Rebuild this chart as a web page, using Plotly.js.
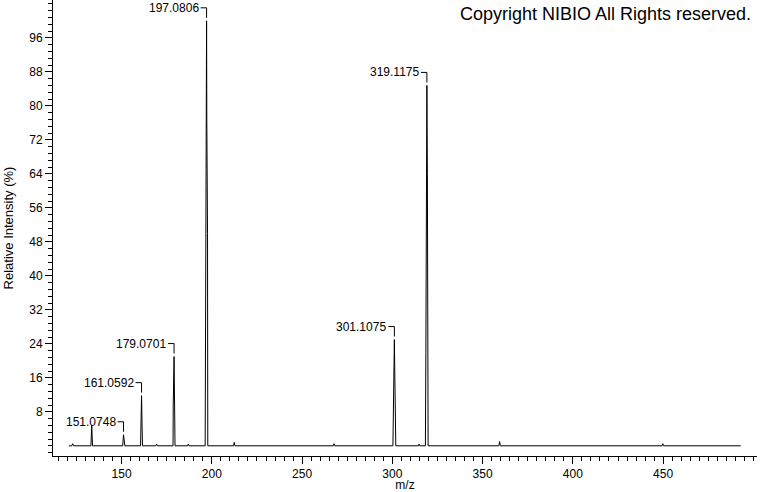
<!DOCTYPE html>
<html>
<head>
<meta charset="utf-8">
<script src="https://cdn.plot.ly/plotly-3.0.1.min.js"></script>
<style>html,body{margin:0;padding:0;background:#fff;}#chart{width:760px;height:492px;}</style>
</head>
<body>
<div id="chart"></div>
<script>
// Profile spectrum (m/z vs relative intensity %)
const mz = [120.8, 122.4, 122.9, 123.4,
  133.0, 133.45, 133.9,
  150.6, 151.07, 151.5, 151.8,
  160.5, 160.65, 161.06, 161.35, 161.6,
  169.0, 169.4, 169.8,
  178.5, 178.6, 179.07, 179.6,
  186.5, 186.9, 187.3,
  196.3, 196.5, 197.08, 197.2, 197.6, 197.75,
  212.0, 212.4, 212.8,
  267.3, 267.7, 268.1,
  300.3, 300.55, 301.11, 301.3, 301.65, 301.9,
  314.4, 314.8, 315.2,
  318.3, 318.56, 319.12, 319.4, 319.8,
  359.0, 359.4, 359.8,
  449.4, 449.8, 450.2,
  493.0];
const intensity = [0, 0, 0.5, 0,
  0, 4.8, 0,
  0, 2.6, 0.6, 0,
  0, 8.4, 11.8, 4.4, 0,
  0, 0.4, 0,
  0, 9.6, 21, 0,
  0, 0.4, 0,
  0, 24, 100, 77, 50, 0,
  0, 0.8, 0,
  0, 0.5, 0,
  0, 12.4, 25, 18.6, 6.5, 0,
  0, 0.4, 0,
  0, 22, 84.8, 64, 0,
  0, 1.0, 0,
  0, 0.5, 0,
  0];

// Labelled peaks
const peakMz = [151.0748, 161.0592, 179.0701, 197.0806, 301.1075, 319.1175];
const peakIntensity = [2.6, 11.8, 21, 100, 25, 84.8];

// Axis ticks
const xTickVals = [150, 200, 250, 300, 350, 400, 450];
const yTickVals = [8, 16, 24, 32, 40, 48, 56, 64, 72, 80, 88, 96];

const FONT = 'Liberation Sans, Arial, sans-serif';

const annotations = peakMz.map((m, i) => ({
  x: m, y: peakIntensity[i], xref: 'x', yref: 'y',
  text: m.toFixed(4), showarrow: false,
  xanchor: 'right', yanchor: 'middle',
  xshift: -6, yshift: 13,
  font: {family: FONT, size: 12, color: '#000'}
}));
annotations.push({
  xref: 'paper', yref: 'paper', x: 1, y: 1,
  xanchor: 'right', yanchor: 'top', xshift: -4, yshift: -2,
  text: 'Copyright NIBIO All Rights reserved.', showarrow: false,
  font: {family: FONT, size: 18, color: '#000'}
});

const shapes = peakMz.map((m, i) => ({
  type: 'path', xref: 'x', yref: 'y',
  xsizemode: 'pixel', ysizemode: 'pixel',
  xanchor: m, yanchor: peakIntensity[i],
  path: 'M -6,13 L 0,13 L 0,3',
  line: {color: '#000', width: 1}
}));

const trace = {
  x: mz, y: intensity, type: 'scatter', mode: 'lines',
  line: {color: '#000', width: 1},
  hoverinfo: 'x+y'
};

const layout = {
  width: 760, height: 492,
  margin: {l: 53, r: 3, t: 0, b: 36, pad: 0},
  paper_bgcolor: '#fff', plot_bgcolor: '#fff',
  showlegend: false,
  font: {family: FONT, size: 12, color: '#000'},
  xaxis: {
    range: [112, 502], autorange: false,
    showline: true, linecolor: '#000', linewidth: 1, mirror: false,
    showgrid: false, zeroline: false,
    tickmode: 'array', tickvals: xTickVals,
    ticks: 'outside', ticklen: 7, tickcolor: '#000', tickwidth: 1,
    tickfont: {family: FONT, size: 12, color: '#000'},
    minor: {tickmode: 'linear', tick0: 0, dtick: 5, ticks: 'outside', ticklen: 4, tickcolor: '#000', tickwidth: 1, showgrid: false},
    title: {text: 'm/z', font: {family: FONT, size: 12, color: '#000'}, standoff: 2}
  },
  yaxis: {
    range: [-2.4, 104.9], autorange: false,
    showline: true, linecolor: '#000', linewidth: 1,
    showgrid: false, zeroline: false,
    tickmode: 'array', tickvals: yTickVals,
    ticks: 'outside', ticklen: 7, tickcolor: '#000', tickwidth: 1,
    tickfont: {family: FONT, size: 12, color: '#000'},
    minor: {tickmode: 'linear', tick0: 0, dtick: 1.6, ticks: 'outside', ticklen: 4, tickcolor: '#000', tickwidth: 1, showgrid: false},
    title: {text: 'Relative Intensity (%)', font: {family: FONT, size: 13, color: '#000'}, standoff: 12}
  },
  annotations: annotations,
  shapes: shapes
};

Plotly.newPlot('chart', [trace], layout, {displayModeBar: false, staticPlot: true});
</script>
</body>
</html>
